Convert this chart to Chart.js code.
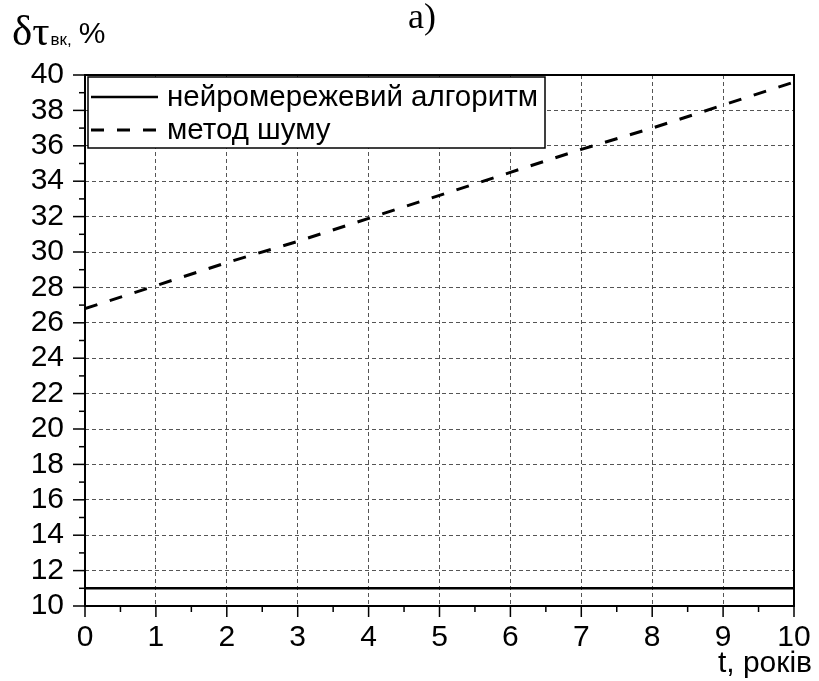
<!DOCTYPE html>
<html>
<head>
<meta charset="utf-8">
<script src="https://cdn.jsdelivr.net/npm/chart.js@4"></script>
<style>
  body { margin: 0; background: #fff; }
  #wrap { width: 819px; height: 681px; position: relative; }
</style>
</head>
<body>
<div id="wrap"><canvas id="errChart"></canvas></div>
<script>
// t, years
const years = [0, 1, 2, 3, 4, 5, 6, 7, 8, 9, 10];
// error, %
const neuralErr = [11, 11, 11, 11, 11, 11, 11, 11, 11, 11, 11];
const noiseErr = [26.8, 28.1, 29.4, 30.6, 31.9, 33.2, 34.5, 35.8, 37.0, 38.3, 39.6];
const seriesLabels = ['нейромережевий алгоритм', 'метод шуму'];

const xMin = 0, xMax = 10, xMinorStep = 0.5;
const yMin = 10, yMax = 40, yMinorStep = 1, yMajorStep = 2;

const toPoints = (xs, ys) => xs.map((x, i) => ({ x: x, y: ys[i] }));

const gridColor = '#555';
const tickFont = { family: 'Liberation Sans', size: 30 };

// frame, outward ticks (major + minor), legend box and the texts around the plot
const decorPlugin = {
    id: 'decor',
    afterDatasetsDraw(chart) {
        const ctx = chart.ctx;
        const area = chart.chartArea;
        const xs = chart.scales.x, ys = chart.scales.y;

        ctx.save();
        ctx.strokeStyle = '#000';
        ctx.lineWidth = 2;
        ctx.strokeRect(area.left, area.top, area.right - area.left, area.bottom - area.top);

        ctx.lineWidth = 1.5;
        xs.ticks.forEach(t => {
            const px = xs.getPixelForValue(t.value);
            const len = Number.isInteger(t.value) ? 11 : 6;
            ctx.beginPath();
            ctx.moveTo(px, area.bottom);
            ctx.lineTo(px, area.bottom + len);
            ctx.stroke();
        });
        ys.ticks.forEach(t => {
            const py = ys.getPixelForValue(t.value);
            const len = t.value % yMajorStep === 0 ? 12 : 6;
            ctx.beginPath();
            ctx.moveTo(area.left, py);
            ctx.lineTo(area.left - len, py);
            ctx.stroke();
        });

        // legend
        const lx = area.left + 3, ly = area.top + 2, lw = 457, lh = 71;
        ctx.fillStyle = '#fff';
        ctx.fillRect(lx, ly, lw, lh);
        ctx.lineWidth = 1.5;
        ctx.strokeRect(lx, ly, lw, lh);
        ctx.font = '29.5px "Liberation Sans"';
        ctx.textBaseline = 'middle';
        ctx.fillStyle = '#000';
        chart.data.datasets.forEach((ds, i) => {
            const rowY = ly + 20 + i * 33;
            ctx.lineWidth = ds.borderWidth;
            ctx.setLineDash(ds.borderDash || []);
            ctx.beginPath();
            ctx.moveTo(lx + 3, rowY);
            ctx.lineTo(lx + 70, rowY);
            ctx.stroke();
            ctx.setLineDash([]);
            ctx.fillText(ds.label, lx + 79, rowY + 1);
        });

        // titles
        ctx.textBaseline = 'alphabetic';
        ctx.font = '36px "Liberation Serif"';
        ctx.textAlign = 'center';
        ctx.fillText('а)', 422, 28);

        ctx.textAlign = 'left';
        ctx.font = '43px "Liberation Serif"';
        ctx.fillText('δτ', 12, 45);
        const symW = ctx.measureText('δτ').width;
        ctx.font = '17px "Liberation Sans"';
        ctx.fillText('вк,', 12 + symW + 1, 45);
        const subW = ctx.measureText('вк,').width;
        ctx.font = '30px "Liberation Sans"';
        ctx.fillText('%', 12 + symW + subW + 8, 43);

        ctx.textAlign = 'right';
        ctx.fillText('t, років', 812, 672);
        ctx.restore();
    }
};

new Chart(document.getElementById('errChart'), {
    type: 'line',
    data: {
        datasets: [{
            label: seriesLabels[0],
            data: toPoints(years, neuralErr),
            borderColor: '#000',
            borderWidth: 2.5,
            pointRadius: 0,
            fill: false
        }, {
            label: seriesLabels[1],
            data: toPoints(years, noiseErr),
            borderColor: '#000',
            borderWidth: 3,
            borderDash: [13, 13],
            pointRadius: 0,
            fill: false
        }]
    },
    options: {
        responsive: true,
        maintainAspectRatio: false,
        animation: false,
        layout: { padding: { top: 75, right: 25, left: 0, bottom: 0 } },
        plugins: {
            legend: { display: false },
            tooltip: { enabled: false }
        },
        scales: {
            x: {
                type: 'linear',
                min: xMin,
                max: xMax,
                afterFit: s => { s.height = 75; s.paddingLeft = 0; s.paddingRight = 0; },
                ticks: {
                    stepSize: xMinorStep,
                    autoSkip: false,
                    maxRotation: 0,
                    padding: 14,
                    color: '#000',
                    font: tickFont,
                    callback: v => Number.isInteger(v) ? v : ''
                },
                grid: {
                    drawTicks: false,
                    lineWidth: 1,
                    color: c => Number.isInteger(c.tick.value) ? gridColor : 'rgba(0,0,0,0)'
                },
                border: { display: false, dash: [4, 3] }
            },
            y: {
                min: yMin,
                max: yMax,
                afterFit: s => { s.width = 85; s.paddingTop = 0; s.paddingBottom = 0; },
                ticks: {
                    stepSize: yMinorStep,
                    autoSkip: false,
                    padding: 21,
                    color: '#000',
                    font: tickFont,
                    callback: v => v % yMajorStep === 0 ? v : ''
                },
                grid: {
                    drawTicks: false,
                    lineWidth: 1,
                    color: c => c.tick.value % yMajorStep === 0 ? gridColor : 'rgba(0,0,0,0)'
                },
                border: { display: false, dash: [4, 3] }
            }
        }
    },
    plugins: [decorPlugin]
});
</script>
</body>
</html>
